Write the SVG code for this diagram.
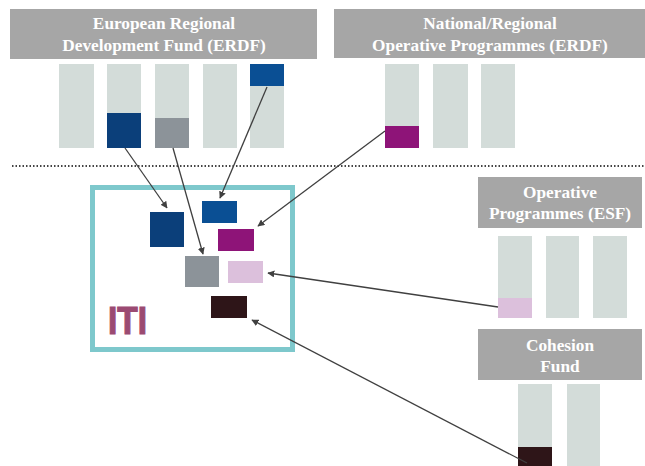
<svg xmlns="http://www.w3.org/2000/svg" width="645" height="466" viewBox="0 0 645 466">
<defs>
<style>
.hdr{fill:#a6a6a6}
.ht{font-family:"Liberation Serif",serif;font-weight:bold;font-size:17.3px;fill:#fff;text-anchor:middle}
.bar{fill:#d3dcd9}
.con line{stroke:#404040;stroke-width:1.3;marker-end:url(#ah)}
</style>
<marker id="ah" viewBox="0 0 10 10" refX="9" refY="5" markerWidth="7" markerHeight="7" markerUnits="userSpaceOnUse" orient="auto"><path d="M0,0 L10,5 L0,10 z" fill="#404040"/></marker>
</defs>
<rect width="645" height="466" fill="#fff"/>
<g id="erdf">
<rect class="hdr" x="10" y="9" width="307" height="50"/>
<text class="ht" x="164" y="29">European Regional</text>
<text class="ht" x="164" y="51">Development Fund (ERDF)</text>
<rect class="bar" x="59" y="64" width="35" height="84"/>
<rect class="bar" x="107" y="64" width="34" height="84"/>
<rect x="107" y="113" width="34" height="35" fill="#0b3f7a"/>
<rect class="bar" x="155" y="64" width="34" height="84"/>
<rect x="155" y="118" width="34" height="30" fill="#8c9399"/>
<rect class="bar" x="203" y="64" width="34" height="84"/>
<rect class="bar" x="250" y="64" width="34" height="84"/>
<rect x="250" y="64" width="34" height="22" fill="#0a4f94"/>
</g>
<g id="nrop">
<rect class="hdr" x="334" y="9" width="311" height="49"/>
<text class="ht" x="490" y="29">National/Regional</text>
<text class="ht" x="490" y="51">Operative Programmes (ERDF)</text>
<rect class="bar" x="385" y="64" width="34" height="84"/>
<rect x="385" y="126" width="34" height="22" fill="#8e1478"/>
<rect class="bar" x="433" y="64" width="35" height="84"/>
<rect class="bar" x="481" y="64" width="34" height="84"/>
</g>
<line x1="12" y1="166" x2="645" y2="166" stroke="#444" stroke-width="2" stroke-dasharray="1.5 2"/>
<g id="esf">
<rect class="hdr" x="478" y="177" width="164" height="51"/>
<text class="ht" x="560" y="198">Operative</text>
<text class="ht" x="560" y="219">Programmes (ESF)</text>
<rect class="bar" x="498" y="236" width="34" height="82"/>
<rect x="498" y="298" width="34" height="20" fill="#dcc0dc"/>
<rect class="bar" x="546" y="236" width="33" height="82"/>
<rect class="bar" x="593" y="236" width="34" height="82"/>
</g>
<g id="cohesion">
<rect class="hdr" x="478" y="329" width="164" height="51"/>
<text class="ht" x="560" y="351">Cohesion</text>
<text class="ht" x="560" y="372">Fund</text>
<rect class="bar" x="518" y="384" width="34" height="82"/>
<rect x="518" y="447" width="34" height="19" fill="#2e1518"/>
<rect class="bar" x="567" y="384" width="33" height="82"/>
</g>
<g id="iti">
<rect x="92.5" y="187.5" width="200" height="162" fill="none" stroke="#7ec8cc" stroke-width="5"/>
<text x="108" y="334" font-family="Liberation Sans,sans-serif" font-weight="bold" font-size="38" fill="#9b4a72" stroke="#9b4a72" stroke-width="1.2" textLength="39" lengthAdjust="spacingAndGlyphs">ITI</text>
<rect x="150" y="212" width="34" height="35" fill="#0b3f7a"/>
<rect x="202" y="201" width="35" height="22" fill="#0a4f94"/>
<rect x="218" y="229" width="36" height="22" fill="#8e1478"/>
<rect x="185" y="256" width="34" height="31" fill="#8c9399"/>
<rect x="228" y="261" width="35" height="22" fill="#dcc0dc"/>
<rect x="211" y="296" width="36" height="22" fill="#2e1518"/>
</g>
<g id="connectors" class="con">
<line x1="125" y1="148" x2="167" y2="208"/>
<line x1="173" y1="148" x2="203" y2="254"/>
<line x1="267" y1="87" x2="220" y2="198"/>
<line x1="385" y1="131" x2="258" y2="226"/>
<line x1="498" y1="307" x2="268" y2="273"/>
<line x1="527" y1="463" x2="252" y2="320"/>
</g>
</svg>
